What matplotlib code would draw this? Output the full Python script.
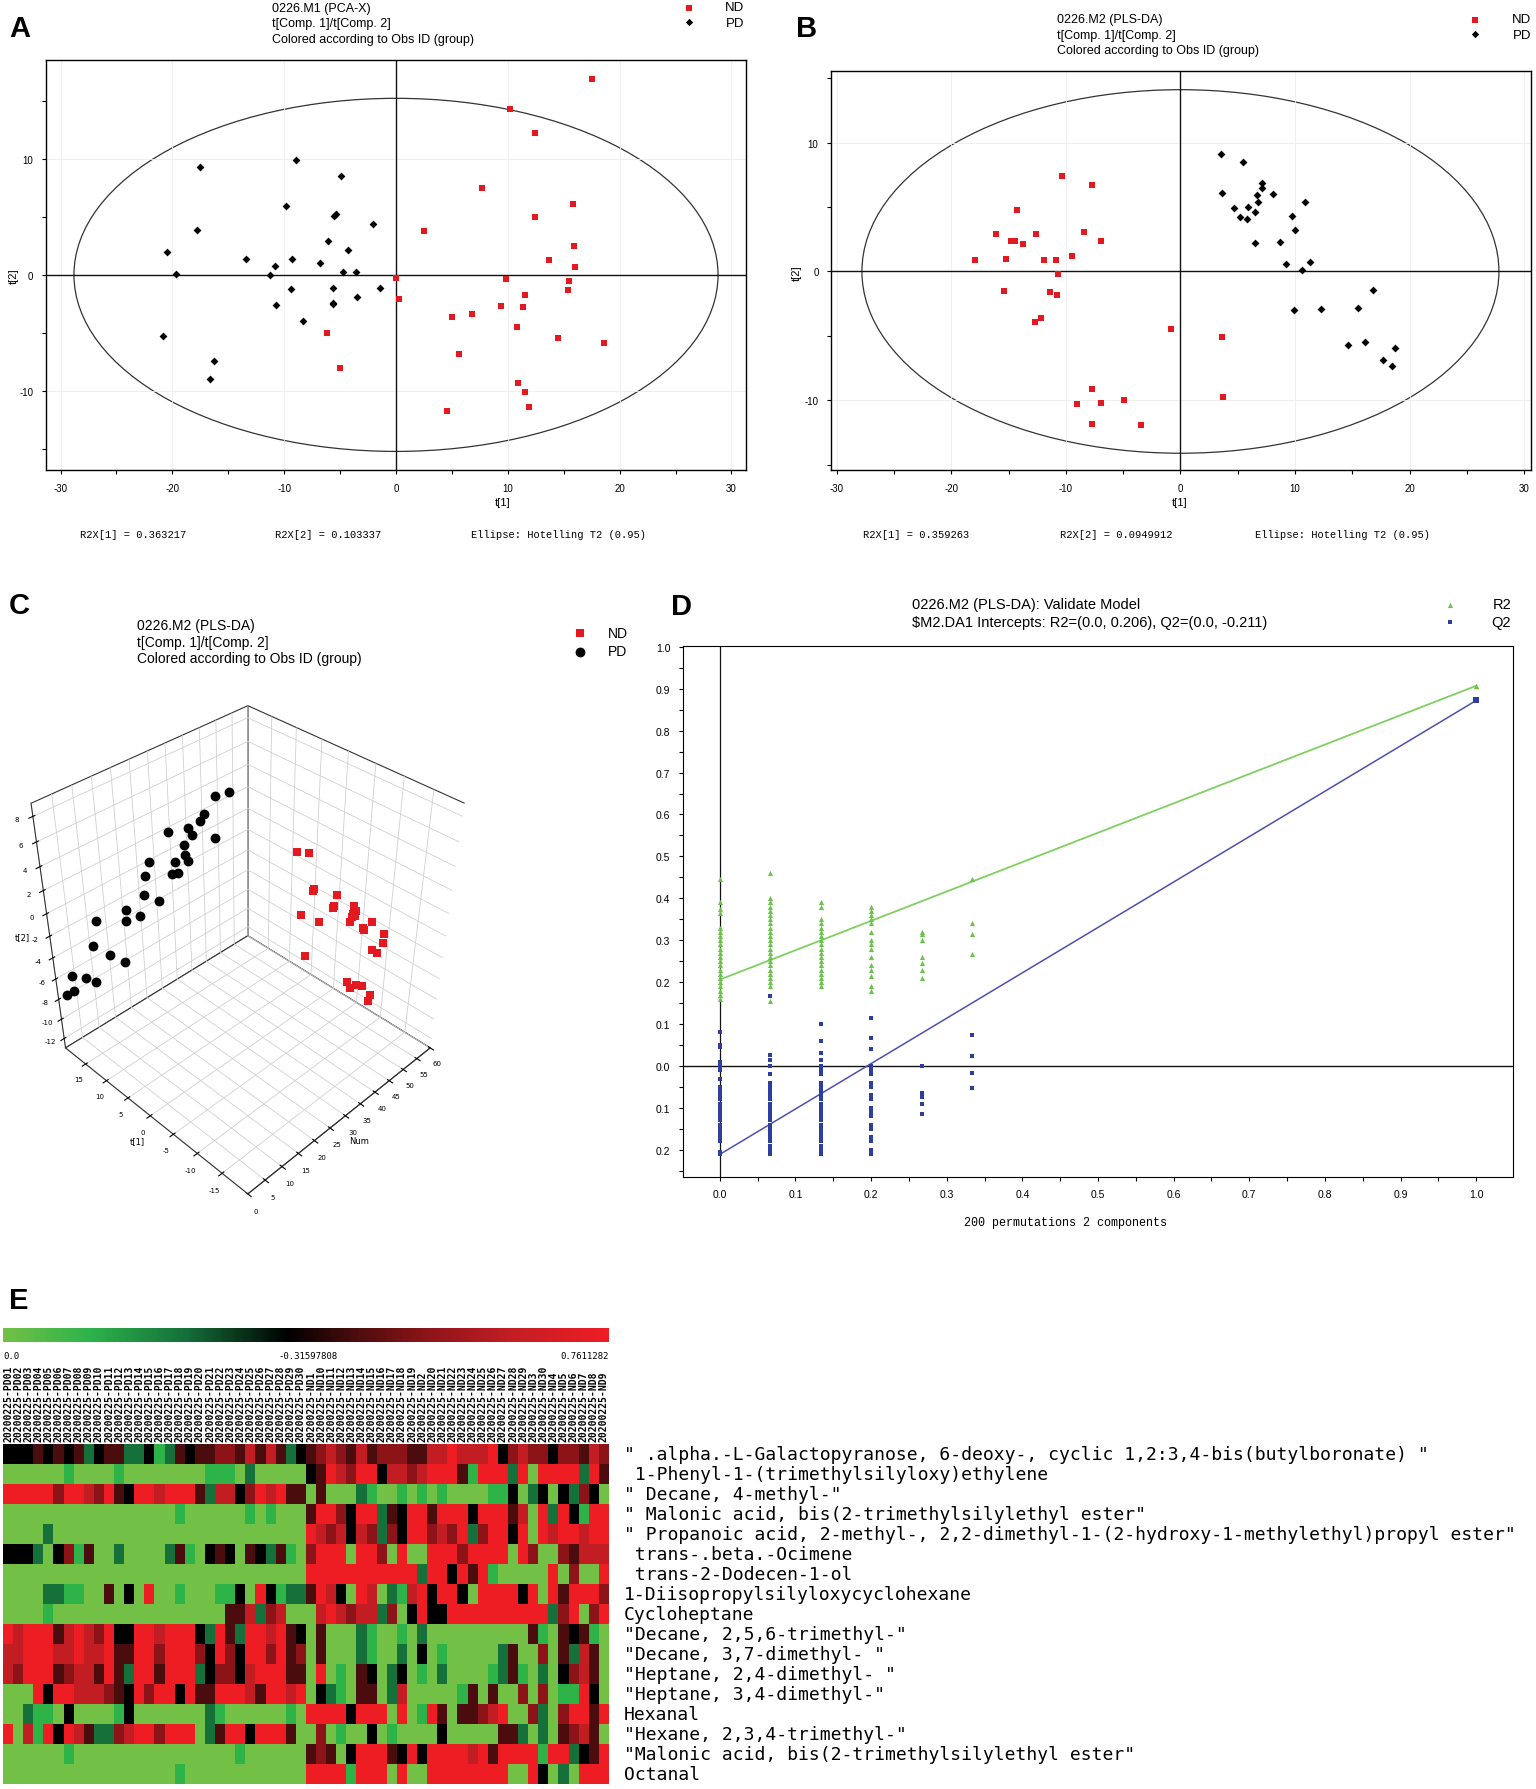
import numpy as np
import matplotlib
matplotlib.use("Agg")
import matplotlib.pyplot as plt
from matplotlib.colors import LinearSegmentedColormap
from matplotlib.patches import Ellipse
from matplotlib.ticker import MultipleLocator, FixedLocator, FixedFormatter
from matplotlib.colorbar import ColorbarBase

plt.rcParams['axes.unicode_minus'] = False
plt.rcParams['grid.color'] = '#d0d0d0'
plt.rcParams['grid.linewidth'] = 0.6

SANS = ['Liberation Sans Narrow', 'Liberation Sans', 'DejaVu Sans']
MONO = 'DejaVu Sans Mono'
RED = '#e3191f'
GREEN = '#6cc24a'
BLUE = '#2c3f9e'

# ---- panel A : PCA-X scores ----
a_nd_t1 = [17.5, 10.2, 12.4, 7.7, 15.8, 12.4, 2.5, 15.9, 13.7, 16.0, 0.0, 9.8, 15.5, 15.4, 11.5,
           0.3, 9.4, 11.4, 6.8, 5.0, 10.8, -6.2, 14.5, 18.6, 5.6, -5.0, 10.9, 11.5, 11.9, 4.6]
a_nd_t2 = [16.9, 14.3, 12.2, 7.5, 6.1, 5.0, 3.8, 2.5, 1.3, 0.65, -0.25, -0.37, -0.5, -1.3, -1.7,
           -2.1, -2.7, -2.75, -3.4, -3.6, -4.5, -5.0, -5.4, -5.9, -6.8, -8.0, -9.3, -10.1, -11.4, -11.7]
a_pd_t1 = [-8.9, -17.5, -4.9, -9.8, -5.5, -5.4, -2.1, -17.8, -6.1, -4.3, -20.5, -13.4, -9.3, -6.8, -10.8,
           -19.7, -11.3, -4.7, -3.6, -9.4, -5.6, -1.4, -3.5, -10.7, -5.6, -5.6, -8.3, -20.8, -16.3, -16.6]
a_pd_t2 = [9.9, 9.3, 8.5, 5.9, 5.1, 5.2, 4.4, 3.9, 2.9, 2.1, 2.0, 1.4, 1.4, 1.0, 0.8,
           0.1, 0.0, 0.25, 0.25, -1.2, -1.1, -1.1, -1.9, -2.6, -2.4, -2.5, -4.0, -5.3, -7.4, -9.0]

# ---- panel B / C : PLS-DA scores ----
b_nd_t1 = [-10.3, -7.7, -14.3, -16.1, -12.6, -8.4, -14.8, -14.4, -6.9, -13.7, -9.5, -17.9, -15.2, -11.9, -10.9,
           -10.7, -15.4, -11.4, -10.8, -12.2, -12.7, -0.8, 3.6, -7.7, 3.7, -4.9, -9.0, -6.9, -7.7, -3.4]
b_nd_t2 = [7.4, 6.7, 4.8, 2.9, 2.9, 3.1, 2.4, 2.4, 2.4, 2.1, 1.2, 0.9, 1.0, 0.9, 0.9,
           -0.2, -1.5, -1.6, -1.8, -3.6, -3.95, -4.5, -5.1, -9.1, -9.7, -10.0, -10.3, -10.2, -11.8, -11.9]
b_pd_t1 = [3.5, 5.5, 7.1, 7.1, 3.6, 8.1, 6.7, 10.9, 6.8, 5.9, 4.7, 6.5, 5.2, 5.8, 9.7,
           10.0, 6.5, 8.7, 9.2, 11.3, 10.6, 16.8, 9.9, 12.3, 15.5, 14.6, 16.1, 18.7, 17.7, 18.5]
b_pd_t2 = [9.1, 8.5, 6.9, 6.5, 6.1, 6.0, 5.9, 5.4, 5.4, 5.0, 4.9, 4.6, 4.2, 4.1, 4.3,
           3.2, 2.2, 2.3, 0.55, 0.7, 0.1, -1.4, -3.0, -2.9, -2.8, -5.7, -5.5, -5.9, -6.9, -7.3]
# observation numbers used on the Num axis of the 3D view
c_pd_num = list(range(30, 0, -1))
c_nd_num = list(range(31, 61))

# ---- panel D : permutation test ----
perm_cor = [0.0, 0.0667, 0.1333, 0.2, 0.2667, 0.3333]
r2_perm = [
    [0.445, 0.39, 0.375, 0.365, 0.33, 0.32, 0.31, 0.30, 0.29, 0.28, 0.27, 0.26, 0.25, 0.24, 0.23, 0.22,
     0.21, 0.20, 0.19, 0.18, 0.17, 0.16],
    [0.46, 0.40, 0.39, 0.38, 0.37, 0.36, 0.35, 0.34, 0.33, 0.32, 0.31, 0.30, 0.29, 0.28, 0.27, 0.26,
     0.25, 0.24, 0.23, 0.22, 0.21, 0.20, 0.19, 0.155],
    [0.39, 0.38, 0.35, 0.34, 0.33, 0.32, 0.31, 0.30, 0.29, 0.28, 0.27, 0.26, 0.25, 0.24, 0.23, 0.22,
     0.21, 0.20, 0.19],
    [0.38, 0.37, 0.36, 0.35, 0.34, 0.32, 0.30, 0.29, 0.28, 0.26, 0.24, 0.23, 0.215, 0.19, 0.18],
    [0.32, 0.315, 0.30, 0.26, 0.245, 0.23, 0.21],
    [0.445, 0.34, 0.315, 0.267],
]
q2_perm = [
    [0.08, 0.05, 0.045, 0.01, 0.0, -0.01, -0.03, -0.05, -0.06, -0.07, -0.08, -0.09, -0.10, -0.11, -0.12,
     -0.13, -0.14, -0.15, -0.16, -0.17, -0.18, -0.205, -0.21],
    [0.168, 0.025, 0.015, 0.0, -0.02, -0.04, -0.05, -0.06, -0.07, -0.08, -0.09, -0.10, -0.11, -0.12,
     -0.13, -0.14, -0.15, -0.16, -0.17, -0.18, -0.19, -0.20, -0.21],
    [0.10, 0.06, 0.03, 0.015, 0.0, -0.01, -0.02, -0.04, -0.05, -0.06, -0.07, -0.08, -0.09, -0.10, -0.11,
     -0.12, -0.13, -0.14, -0.15, -0.16, -0.17, -0.18, -0.19, -0.20, -0.21],
    [0.115, 0.067, 0.04, 0.0, -0.01, -0.02, -0.04, -0.05, -0.07, -0.08, -0.10, -0.11, -0.12, -0.14,
     -0.15, -0.17, -0.18, -0.20, -0.21],
    [0.0, -0.065, -0.075, -0.09, -0.115],
    [0.075, 0.024, -0.018, -0.052],
]
r2_orig, q2_orig = 0.907, 0.872
r2_icpt, q2_icpt = 0.206, -0.211
d_yticks = [1.0, 0.9, 0.8, 0.7, 0.6, 0.5, 0.4, 0.3, 0.2, 0.1, 0.0, -0.1, -0.2]
d_yticklabels = ['1.0', '0.9', '0.8', '0.7', '0.6', '0.5', '0.4', '0.3', '0.2', '0.1', '0.0', '0.1', '0.2']

# ---- panel E : heatmap ----
# G light green (low) ... k black ... R red (high)
heat_rows = [
    "kkkmkmkmdkmmddkgdmkmmrrmsmsmdk" + "mrsrmsmrrrmmssRsssRkrsrrkrrmsr",
    "GGGGGGgGGGGgGGGGGGGGgggGdGGGGG" + "kmRsrRRkssrsRRRmgRRRdRGRRRRdRm",
    "RRRRRrRRsrRmkRRsRRRmdsskrRsRmm" + "GmGGGdgGGgGgGgGGGGggkGdkGkdrkG",
    "GGGGGGGGGGGGGGGGGgGGGGGGgGgGGG" + "mRRrkRRdmkRRmRRRkRRRmsGRdRkgRR",
    "GGGGdGGGGGGGGGGGGGGGGGGGGGGGGG" + "RsrsksrdrkRRrsrRdrRRkRGRsRRsRR",
    "kkkdGkrgmGGdGGGGdmgGkmkGmkdmgG" + "rRRRGRRrGRGGRRRrRRRRGRrGGrmsss",
    "GGGGGGGGGGGGGGGGGGGGGGGGGGGGGG" + "RRRRRRRRRRRdRRkRmRgGGGGGRGrGGR",
    "GGGGddggGGmGkGRGGgGGGggkGRkgdd" + "mRskGRsGdgsRkRRkGRRRRkRGRmRRRr",
    "GGGGgGGGGGGGGGGGGGGGGGmmsdrsGG" + "GsRsrssdrGkRkkRRRRRRRRRRdrRGrR",
    "RsRRRmsRsrRkkRRsRRRkdRmdRRsRmk" + "GmGGGdgGGgGdGGGGGGGGGGmgGmkmgG",
    "ssRRRssRssRmmRRrRRRrkRrkRRrRmr" + "GmGGGdgGGdGkGgGGGGGdmGGrGmdsmG",
    "srRRRmrssmRmdRRmRRRdkrrksRRRmm" + "GRGgGmkGdkGgGdGGGGgdmgGdGkrsmG",
    "GGGRkRRsssrmkRrRRkRmmRRRsmRRsR" + "GkdgGmmGdsGGGGGgmGmGGrGrGggRkG",
    "GGdggGkGGGGgkGGGGGGGdgGGGGGGgG" + "RRRRkRRRGRGgRmGmmrsRGGrdGrRRmR",
    "RGsgRkRsmddrsRRrRRRGdmRRkRRRmG" + "GrGgGGkGgGGGGkGGGGGmmdGdGmrsmG",
    "GGGGGGgGGGGGGGGGGGGGGGGgGGGGGG" + "mrmGkRRRmkRkRRRRsRmRRRRgRRdkmR",
    "GGGGGGGGGGGGGGGGGgGGGGGGGGGGGG" + "RRRRgRRRGRGGRRRRRRRRGGRkGdGRRR",
]
level = {'G': 0.0, 'g': 0.14, 'd': 0.3, 'k': 0.47, 'm': 0.58, 'r': 0.7, 's': 0.84, 'R': 1.0}
compounds = [
    '" .alpha.-L-Galactopyranose, 6-deoxy-, cyclic 1,2:3,4-bis(butylboronate) "',
    ' 1-Phenyl-1-(trimethylsilyloxy)ethylene',
    '" Decane, 4-methyl-"',
    '" Malonic acid, bis(2-trimethylsilylethyl ester"',
    '" Propanoic acid, 2-methyl-, 2,2-dimethyl-1-(2-hydroxy-1-methylethyl)propyl ester"',
    ' trans-.beta.-Ocimene',
    ' trans-2-Dodecen-1-ol',
    '1-Diisopropylsilyloxycyclohexane',
    'Cycloheptane',
    '"Decane, 2,5,6-trimethyl-"',
    '"Decane, 3,7-dimethyl- "',
    '"Heptane, 2,4-dimethyl- "',
    '"Heptane, 3,4-dimethyl-"',
    'Hexanal',
    '"Hexane, 2,3,4-trimethyl-"',
    '"Malonic acid, bis(2-trimethylsilylethyl ester"',
    'Octanal',
]
pd_samples = ['20200225-PD%02d' % i for i in range(1, 31)]
nd_samples = sorted(['20200225-ND%d' % i for i in range(1, 31)])
samples = pd_samples + nd_samples
cbar_labels = ['0.0', '-0.31597808', '0.7611282']

W, H = 1536, 1790
fig = plt.figure(figsize=(W / 100, H / 100), dpi=100)


def box(x0, y0, x1, y1):
    return [x0 / W, 1 - y1 / H, (x1 - x0) / W, (y1 - y0) / H]


def put(x, y, s, **kw):
    kw.setdefault('family', SANS)
    fig.text(x / W, 1 - y / H, s, **kw)


def score_plot(rect, nd_x, nd_y, pd_x, pd_y, xlim, ylim, ell):
    ax = fig.add_axes(box(*rect))
    ax.set_xlim(xlim)
    ax.set_ylim(ylim)
    ax.grid(True, color='#ececec', lw=0.6)
    ax.add_patch(Ellipse((0, 0), 2 * ell[0], 2 * ell[1], fill=False, lw=0.9, ec='#333333'))
    ax.axhline(0, color='#111111', lw=1.0)
    ax.axvline(0, color='#111111', lw=1.0)
    ax.scatter(pd_x, pd_y, marker='D', s=16, c='black', lw=0, zorder=3)
    ax.scatter(nd_x, nd_y, marker='s', s=16, c=RED, lw=0, zorder=3)
    ax.xaxis.set_major_locator(MultipleLocator(10))
    ax.xaxis.set_minor_locator(MultipleLocator(5))
    ax.yaxis.set_major_locator(MultipleLocator(10))
    ax.yaxis.set_minor_locator(MultipleLocator(5))
    ax.tick_params(which='both', direction='out', length=3, width=0.8, labelsize=7, pad=6)
    for sp in ax.spines.values():
        sp.set_linewidth(1.0)
    for lab in ax.get_xticklabels() + ax.get_yticklabels():
        lab.set_family(SANS)
    return ax


# ---------------- A ----------------
score_plot((46, 61, 746, 471), a_nd_t1, a_nd_t2, a_pd_t1, a_pd_t2, (-31.3, 31.3), (-16.8, 18.5), (28.8, 15.2))
put(9, 29, 'A', fontsize=21, weight='bold', va='center', family=['Liberation Sans', 'DejaVu Sans'])
for i, s in enumerate(['0226.M1 (PCA-X)', 't[Comp. 1]/t[Comp. 2]', 'Colored according to Obs ID (group)']):
    put(272, 9 + 15.5 * i, s, fontsize=9, va='center')
put(503, 503, 't[1]', fontsize=8, ha='center', va='center')
put(14, 276, 't[2]', fontsize=8, ha='center', va='center', rotation=90)
for x, s in [(80, 'R2X[1] = 0.363217'), (275, 'R2X[2] = 0.103337'), (471, 'Ellipse: Hotelling T2 (0.95)')]:
    put(x, 535, s, fontsize=7.5, va='center', family='Liberation Mono')

# ---------------- B ----------------
score_plot((831, 72, 1531, 471), b_nd_t1, b_nd_t2, b_pd_t1, b_pd_t2, (-30.5, 30.6), (-15.4, 15.55), (27.8, 14.1))
put(796, 29, 'B', fontsize=21, weight='bold', va='center', family=['Liberation Sans', 'DejaVu Sans'])
for i, s in enumerate(['0226.M2 (PLS-DA)', 't[Comp. 1]/t[Comp. 2]', 'Colored according to Obs ID (group)']):
    put(1057, 20 + 15.5 * i, s, fontsize=9, va='center')
put(1180, 503, 't[1]', fontsize=8, ha='center', va='center')
put(797, 273, 't[2]', fontsize=8, ha='center', va='center', rotation=90)
for x, s in [(863, 'R2X[1] = 0.359263'), (1060, 'R2X[2] = 0.0949912'), (1255, 'Ellipse: Hotelling T2 (0.95)')]:
    put(x, 535, s, fontsize=7.5, va='center', family='Liberation Mono')

# legends A / B
for (mx, tx, y0) in [(689, 744, 8), (1475, 1531, 20)]:
    lg = fig.add_axes(box(mx - 6, y0 - 7, mx + 6, y0 + 23))
    lg.set_xlim(0, 1)
    lg.set_ylim(1.6, -0.6)
    lg.scatter([0.5], [0], marker='s', s=14, c=RED, lw=0)
    lg.scatter([0.5], [1], marker='D', s=14, c='black', lw=0)
    lg.axis('off')
    put(tx, y0, 'ND', fontsize=9.5, ha='right', va='center')
    put(tx, y0 + 16, 'PD', fontsize=9.5, ha='right', va='center')

# ---------------- C (3D) ----------------
ax3 = fig.add_axes(box(-50, 645, 530, 1245), projection='3d')
ax3.set_proj_type('persp', focal_length=0.35)
ax3.view_init(elev=38, azim=-135)
ax3.set_box_aspect((1, 1, 1.1), zoom=0.84)
ax3.set_xlim(0, 60)
ax3.set_ylim(-20, 20)
ax3.set_zlim(-13, 9)
ax3.set_xticks(range(0, 61, 5))
ax3.set_yticks(range(-15, 16, 5))
ax3.set_zticks(range(-12, 9, 2))
for a in (ax3.xaxis, ax3.yaxis, ax3.zaxis):
    a.set_pane_color((1, 1, 1, 1))
    a.pane.set_edgecolor('#333333')
    a.pane.set_linewidth(0.8)
    a.line.set_color('#333333')
ax3.tick_params(labelsize=5, pad=0)
ax3.set_xlabel('Num', fontsize=6, labelpad=-6)
ax3.set_ylabel('t[1]', fontsize=6, labelpad=-6)
ax3.set_zlabel('t[2]', fontsize=6, labelpad=-6)
ax3.scatter(c_pd_num, b_pd_t1, b_pd_t2, marker='o', s=50, c='black', depthshade=False, lw=0)
ax3.scatter(c_nd_num, b_nd_t1, b_nd_t2, marker='s', s=38, c=RED, depthshade=False, lw=0)
put(9, 606, 'C', fontsize=21, weight='bold', va='center', family=['Liberation Sans', 'DejaVu Sans'])
for i, s in enumerate(['0226.M2 (PLS-DA)', 't[Comp. 1]/t[Comp. 2]', 'Colored according to Obs ID (group)']):
    put(137, 626 + 16.5 * i, s, fontsize=10, va='center')
lg = fig.add_axes(box(572, 624, 588, 662))
lg.set_xlim(0, 1)
lg.set_ylim(1.5, -0.5)
lg.scatter([0.5], [0], marker='s', s=40, c=RED, lw=0)
lg.scatter([0.5], [1], marker='o', s=50, c='black', lw=0)
lg.axis('off')
put(608, 634, 'ND', fontsize=10, va='center')
put(608, 652, 'PD', fontsize=10, va='center')

# ---------------- D ----------------
axd = fig.add_axes(box(683, 647, 1513, 1178))
axd.set_xlim(-0.0487, 1.0487)
axd.set_ylim(-0.265, 1.002)
axd.axhline(0, color='#111111', lw=1.0)
axd.axvline(0, color='#111111', lw=0.9)
axd.plot([0, 1], [r2_icpt, r2_orig], color='#7fcf63', lw=1.3)
axd.plot([0, 1], [q2_icpt, q2_orig], color='#4d4fb0', lw=1.1)
for xc, vals in zip(perm_cor, r2_perm):
    axd.scatter([xc] * len(vals), vals, marker='^', s=14, c=GREEN, lw=0, zorder=3)
for xc, vals in zip(perm_cor, q2_perm):
    axd.scatter([xc] * len(vals), vals, marker='s', s=12, c=BLUE, lw=0, zorder=3)
axd.scatter([1.0], [r2_orig], marker='^', s=16, c=GREEN, lw=0, zorder=3)
axd.scatter([1.0], [q2_orig], marker='s', s=14, c=BLUE, lw=0, zorder=3)
axd.xaxis.set_major_locator(MultipleLocator(0.1))
axd.xaxis.set_minor_locator(MultipleLocator(0.05))
axd.yaxis.set_major_locator(FixedLocator(d_yticks))
axd.yaxis.set_major_formatter(FixedFormatter(d_yticklabels))
axd.yaxis.set_minor_locator(MultipleLocator(0.05))
axd.tick_params(which='both', direction='out', length=3, width=0.8, labelsize=7.5, pad=6)
for lab in axd.get_xticklabels() + axd.get_yticklabels():
    lab.set_family(SANS)
put(1066, 1223, '200 permutations 2 components', fontsize=8.5, ha='center', va='center', family='Liberation Mono')
put(671, 607, 'D', fontsize=21, weight='bold', va='center', family=['Liberation Sans', 'DejaVu Sans'])
put(912, 605, '0226.M2 (PLS-DA): Validate Model', fontsize=10.5, va='center')
put(912, 623, '\\$M2.DA1 Intercepts: R2=(0.0, 0.206), Q2=(0.0, -0.211)', fontsize=10.5, va='center')
lg = fig.add_axes(box(1443, 597, 1457, 631))
lg.set_xlim(0, 1)
lg.set_ylim(1.5, -0.5)
lg.scatter([0.5], [0], marker='^', s=14, c=GREEN, lw=0)
lg.scatter([0.5], [1], marker='s', s=12, c=BLUE, lw=0)
lg.axis('off')
put(1511, 605, 'R2', fontsize=10.5, ha='right', va='center')
put(1511, 623, 'Q2', fontsize=10.5, ha='right', va='center')

# ---------------- E ----------------
cmap = LinearSegmentedColormap.from_list('gkr', [
    (0.0, '#72c046'), (0.14, '#2db34a'), (0.3, '#15703a'), (0.47, '#000000'),
    (0.58, '#4a0c0c'), (0.7, '#8c1418'), (0.84, '#c31d24'), (1.0, '#ee1d24')])
put(9, 1301, 'E', fontsize=21, weight='bold', va='center', family=['Liberation Sans', 'DejaVu Sans'])
axc = fig.add_axes(box(3, 1329, 609, 1343))
cb = ColorbarBase(axc, cmap=cmap, orientation='horizontal')
cb.outline.set_visible(False)
cb.set_ticks([])
put(3, 1357, cbar_labels[0], fontsize=6.5, va='center', family=MONO)
put(308, 1357, cbar_labels[1], fontsize=6.5, ha='center', va='center', family=MONO)
put(609, 1357, cbar_labels[2], fontsize=6.5, ha='right', va='center', family=MONO)

heat = np.array([[level[c] for c in row] for row in heat_rows])
axh = fig.add_axes(box(3, 1445, 609, 1785))
axh.imshow(heat, cmap=cmap, vmin=0, vmax=1, aspect='auto', interpolation='nearest')
axh.axis('off')
cw = (609 - 3) / len(samples)
for i, s in enumerate(samples):
    put(3 + cw * (i + 0.5), 1442, s, fontsize=7, rotation=90, ha='center', va='bottom',
        family=MONO, weight='bold')
for i, s in enumerate(compounds):
    put(624, 1455 + 20 * i, s, fontsize=13, va='center', family=MONO)

fig.savefig('out.png', dpi=100)
